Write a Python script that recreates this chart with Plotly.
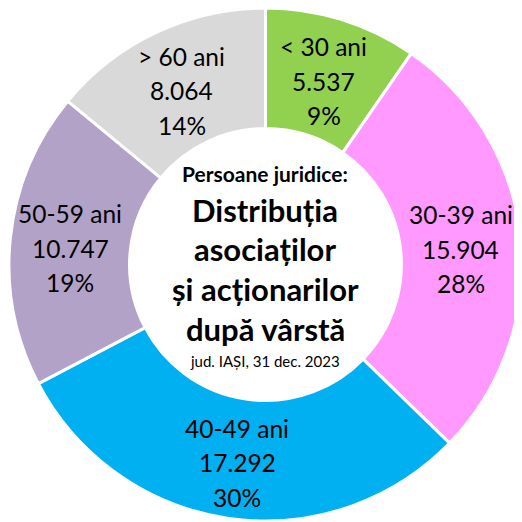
import math
import plotly.graph_objects as go

categories = ["< 30 ani", "30-39 ani", "40-49 ani", "50-59 ani", "> 60 ani"]
values = [5537, 15904, 17292, 10747, 8064]
value_labels = ["5.537", "15.904", "17.292", "10.747", "8.064"]
pct_labels = ["9%", "28%", "30%", "19%", "14%"]
colors = ["#92D050", "#FF99FF", "#00B0F0", "#B3A2C7", "#D9D9D9"]

FONT = "Lato"
W = H = 514  # page body adds an 8px margin
ML, MR, MT, MB = 1, 0, 0, 1
HOLE = 0.53
PW, PH = W - ML - MR, H - MT - MB


def to_paper(xfig, yfig):
    return (xfig - ML) / PW, 1 - (yfig - MT) / PH


fig = go.Figure(go.Pie(
    labels=categories,
    values=values,
    textinfo="none",
    hole=HOLE,
    sort=False,
    direction="clockwise",
    rotation=0,
    marker=dict(colors=colors, line=dict(color="white", width=3)),
    showlegend=False,
))

# slice labels, placed at each slice's mid-angle (derived from the data)
R = min(PW, PH) / 2
cx, cy = ML + PW / 2, MT + PH / 2
rm = R * (1 + HOLE) / 2
total = sum(values)
cum = 0
for cat, vl, pl, v in zip(categories, value_labels, pct_labels, values):
    theta = 2 * math.pi * (cum + v / 2) / total
    cum += v
    x = cx + rm * math.sin(theta)
    y = cy - rm * math.cos(theta) + 4
    for k, line in enumerate([cat, vl, pl]):
        xp, yp = to_paper(x, y + (k - 1) * 34.5)
        fig.add_annotation(
            text=line, x=xp, y=yp, xref="paper", yref="paper",
            showarrow=False, xanchor="center", yanchor="middle",
            font=dict(family=FONT, size=24.5, color="black"),
        )

center_lines = [
    ("<b>Persoane juridice:</b>", 21, 173),
    ("<b>Distribuția</b>", 31, 210),
    ("<b>asociaților</b>", 31, 249),
    ("<b>și acționarilor</b>", 31, 289),
    ("<b>după vârstă</b>", 31, 329),
    ("jud. IAȘI, 31 dec. 2023", 15, 361),
]
for txt, size, ypx in center_lines:
    xp, yp = to_paper(265 - 8, ypx - 8)
    fig.add_annotation(
        text=txt, x=xp, y=yp, xref="paper", yref="paper",
        showarrow=False, xanchor="center", yanchor="middle",
        font=dict(family=FONT, size=size, color="black"),
    )

fig.update_layout(
    width=W, height=H,
    margin=dict(l=ML, r=MR, t=MT, b=MB),
    paper_bgcolor="white",
    plot_bgcolor="white",
)

fig.write_html("out.html")
